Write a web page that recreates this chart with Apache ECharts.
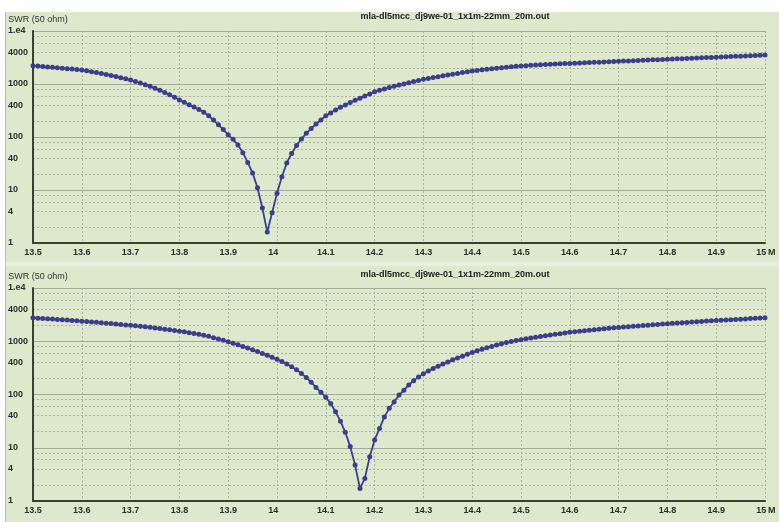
<!DOCTYPE html>
<html><head><meta charset="utf-8">
<script src="https://cdn.jsdelivr.net/npm/echarts@6/dist/echarts.min.js"></script>
<style>html,body{margin:0;padding:0;background:#fff}#c{width:779px;height:522px}</style>
</head><body><div id="c"></div>
<script>
// ---- data ----
const freqMHz = [
 13.50,13.51,13.52,13.53,13.54,13.55,13.56,13.57,13.58,13.59,
 13.60,13.61,13.62,13.63,13.64,13.65,13.66,13.67,13.68,13.69,
 13.70,13.71,13.72,13.73,13.74,13.75,13.76,13.77,13.78,13.79,
 13.80,13.81,13.82,13.83,13.84,13.85,13.86,13.87,13.88,13.89,
 13.90,13.91,13.92,13.93,13.94,13.95,13.96,13.97,13.98,13.99,
 14.00,14.01,14.02,14.03,14.04,14.05,14.06,14.07,14.08,14.09,
 14.10,14.11,14.12,14.13,14.14,14.15,14.16,14.17,14.18,14.19,
 14.20,14.21,14.22,14.23,14.24,14.25,14.26,14.27,14.28,14.29,
 14.30,14.31,14.32,14.33,14.34,14.35,14.36,14.37,14.38,14.39,
 14.40,14.41,14.42,14.43,14.44,14.45,14.46,14.47,14.48,14.49,
 14.50,14.51,14.52,14.53,14.54,14.55,14.56,14.57,14.58,14.59,
 14.60,14.61,14.62,14.63,14.64,14.65,14.66,14.67,14.68,14.69,
 14.70,14.71,14.72,14.73,14.74,14.75,14.76,14.77,14.78,14.79,
 14.80,14.81,14.82,14.83,14.84,14.85,14.86,14.87,14.88,14.89,
 14.90,14.91,14.92,14.93,14.94,14.95,14.96,14.97,14.98,14.99,
 15.00
];
const swrTop = [
 2213,2178,2138,2099,2061,2023,1986,1950,1910,1875,
 1837,1770,1706,1641,1578,1514,1445,1380,1315,1250,
 1189,1114,1042,971,902,832,760,692,625,562,
 501,452,406,367,330,292,251,209,170,138,
 110,90.2,70.8,50.7,33.1,20.9,11.0,4.57,1.62,3.72,
 8.71,17.8,32.4,49.0,69.2,91.2,117.5,144.5,175.8,208.9,
 251.2,285.1,323.6,363.1,402.7,446.7,492.0,540.8,591.6,648.6,
 716,762,809,857,906,955,1005,1057,1112,1169,
 1230,1276,1324,1374,1426,1479,1531,1585,1641,1698,
 1758,1807,1854,1901,1945,1991,2032,2075,2113,2153,
 2188,2218,2249,2275,2301,2328,2355,2382,2404,2427,
 2449,2471,2494,2516,2539,2562,2585,2608,2632,2656,
 2679,2704,2728,2753,2778,2803,2828,2854,2879,2905,
 2931,2958,2984,3011,3038,3066,3093,3121,3149,3178,
 3206,3235,3264,3293,3323,3353,3383,3413,3444,3475,
 3508
];
const swrBottom = [
 2754,2716,2679,2642,2606,2570,2529,2495,2455,2421,
 2382,2344,2301,2265,2223,2183,2143,2099,2056,2028,
 1995,1954,1910,1866,1824,1778,1734,1687,1641,1596,
 1549,1500,1452,1403,1352,1303,1236,1169,1104,1040,
 977,916,857,800,745,692,640,590,543,499,
 457,415,374,333,292,249,208,170,136,110,
 89,67.6,47.3,31.6,19.5,10.5,4.73,1.72,2.66,6.76,
 14.0,22.9,38.0,55.0,72.4,97.7,120,151,182,214,
 245,275,309,339,372,407,447,484,525,569,
 617,661,708,752,798,847,895,944,989,1030,
 1072,1109,1148,1189,1227,1268,1309,1349,1390,1435,
 1479,1514,1545,1578,1611,1644,1679,1714,1750,1786,
 1820,1849,1879,1910,1941,1972,2004,2037,2070,2104,
 2138,2168,2198,2228,2259,2291,2323,2355,2388,2421,
 2455,2483,2512,2541,2570,2600,2630,2661,2692,2723,
 2754
];
const yLabelValues = [1, 4, 10, 40, 100, 400, 1000, 4000, 10000];
const yMinorValues = [2, 4, 6, 8, 20, 40, 60, 80, 200, 400, 600, 800, 2000, 4000, 6000, 8000];
const plotTitle = 'mla-dl5mcc_dj9we-01_1x1m-22mm_20m.out';
const yName = 'SWR (50 ohm)';
const xName = 'M';

// ---- styling ----
const FONT = '"Liberation Sans", Arial, sans-serif';
const curveColor = '#3a3e8c';
const axisColor = '#394133';
const majorGrid = '#a2ab95';
const minorGrid = '#a9b39c';
const labelColor = '#2e2e2e';

const grids = [
  {left: 33, top: 31, width: 732, height: 212, outerBoundsMode: 'none', containLabel: false},
  {left: 33, top: 288, width: 732, height: 213, outerBoundsMode: 'none', containLabel: false}
];

function xAxisFor(g) {
  return {
    type: 'value', gridIndex: g, min: 13.5, max: 15, interval: 0.1,
    axisLine: {show: true, onZero: false, lineStyle: {color: axisColor, width: 2}},
    axisTick: {show: false},
    splitLine: {show: true, lineStyle: {color: minorGrid, type: [2, 2], width: 1}},
    axisLabel: {
      margin: 5, showMinLabel: true, showMaxLabel: true,
      formatter: function (v) {
        const r = Math.round(v * 10) / 10;
        return Number.isInteger(r) ? '{a|' + r + '}{h|.0}' : '{a|' + r.toFixed(1) + '}';
      },
      rich: {
        a: {fontSize: 9, fontWeight: 'bold', color: labelColor, fontFamily: FONT},
        h: {fontSize: 9, fontWeight: 'bold', color: 'rgba(0,0,0,0)', fontFamily: FONT}
      }
    },
    name: xName, nameLocation: 'end', nameGap: 3, nameMoveOverlap: false,
    nameTextStyle: {fontSize: 9, fontWeight: 'bold', color: labelColor, fontFamily: FONT, verticalAlign: 'top', padding: [5, 0, 0, 0]}
  };
}
function yMainFor(g) {
  return {
    type: 'log', logBase: 10, gridIndex: g, min: 1, max: 10000, position: 'left',
    axisLine: {show: true, onZero: false, lineStyle: {color: axisColor, width: 2}},
    axisTick: {show: false},
    splitLine: {show: true, lineStyle: {color: majorGrid, width: 1}},
    axisLabel: {
      customValues: yLabelValues, align: 'left', margin: 25,
      fontSize: 9, fontWeight: 'bold', color: labelColor, fontFamily: FONT,
      formatter: function (v) { return v >= 10000 ? '1.e4' : String(Math.round(v)); }
    },
    name: yName, nameLocation: 'end', nameGap: 11, nameMoveOverlap: false,
    nameTextStyle: {fontSize: 9, color: '#333', fontFamily: FONT, align: 'center', verticalAlign: 'middle', padding: [0, 0, 0, 10]}
  };
}
function yMinorFor(g) {
  return {
    type: 'log', logBase: 10, gridIndex: g, min: 1, max: 10000, position: 'left',
    axisLine: {show: false}, axisLabel: {show: false},
    axisTick: {show: false, customValues: yMinorValues},
    splitLine: {show: true, lineStyle: {color: minorGrid, type: [2, 2], width: 1}}
  };
}
function series(g, values) {
  return {
    type: 'line', xAxisIndex: g, yAxisIndex: g * 2,
    data: freqMHz.map((f, i) => [f, values[i]]),
    symbol: 'circle', symbolSize: 5, showSymbol: true,
    lineStyle: {color: curveColor, width: 1.8},
    itemStyle: {color: curveColor},
    silent: true, z: 5
  };
}

const chart = echarts.init(document.getElementById('c'), null, {renderer: 'canvas'});
chart.setOption({
  animation: false,
  backgroundColor: '#dde8cd',
  grid: grids,
  xAxis: [xAxisFor(0), xAxisFor(1)],
  yAxis: [yMainFor(0), yMinorFor(0), yMainFor(1), yMinorFor(1)],
  series: [series(0, swrTop), series(1, swrBottom)],
  graphic: [
    {type: 'rect', z: -1, shape: {x: 0, y: 0, width: 779, height: 12}, style: {fill: '#ffffff'}},
    {type: 'rect', z: -1, shape: {x: 0, y: 0, width: 5, height: 522}, style: {fill: '#ffffff'}},
    {type: 'rect', z: -1, shape: {x: 5, y: 262, width: 774, height: 4}, style: {fill: '#eaf0e0'}},
    {type: 'line', z: -1, shape: {x1: 5.5, y1: 12, x2: 5.5, y2: 522}, style: {stroke: '#b9beb3', lineWidth: 1}},
    {type: 'text', x: 455, y: 17, style: {text: plotTitle, textAlign: 'center', textVerticalAlign: 'middle', font: 'bold 9px "Liberation Sans", Arial, sans-serif', fill: '#222'}},
    {type: 'text', x: 455, y: 275, style: {text: plotTitle, textAlign: 'center', textVerticalAlign: 'middle', font: 'bold 9px "Liberation Sans", Arial, sans-serif', fill: '#222'}}
  ]
});
</script></body></html>
